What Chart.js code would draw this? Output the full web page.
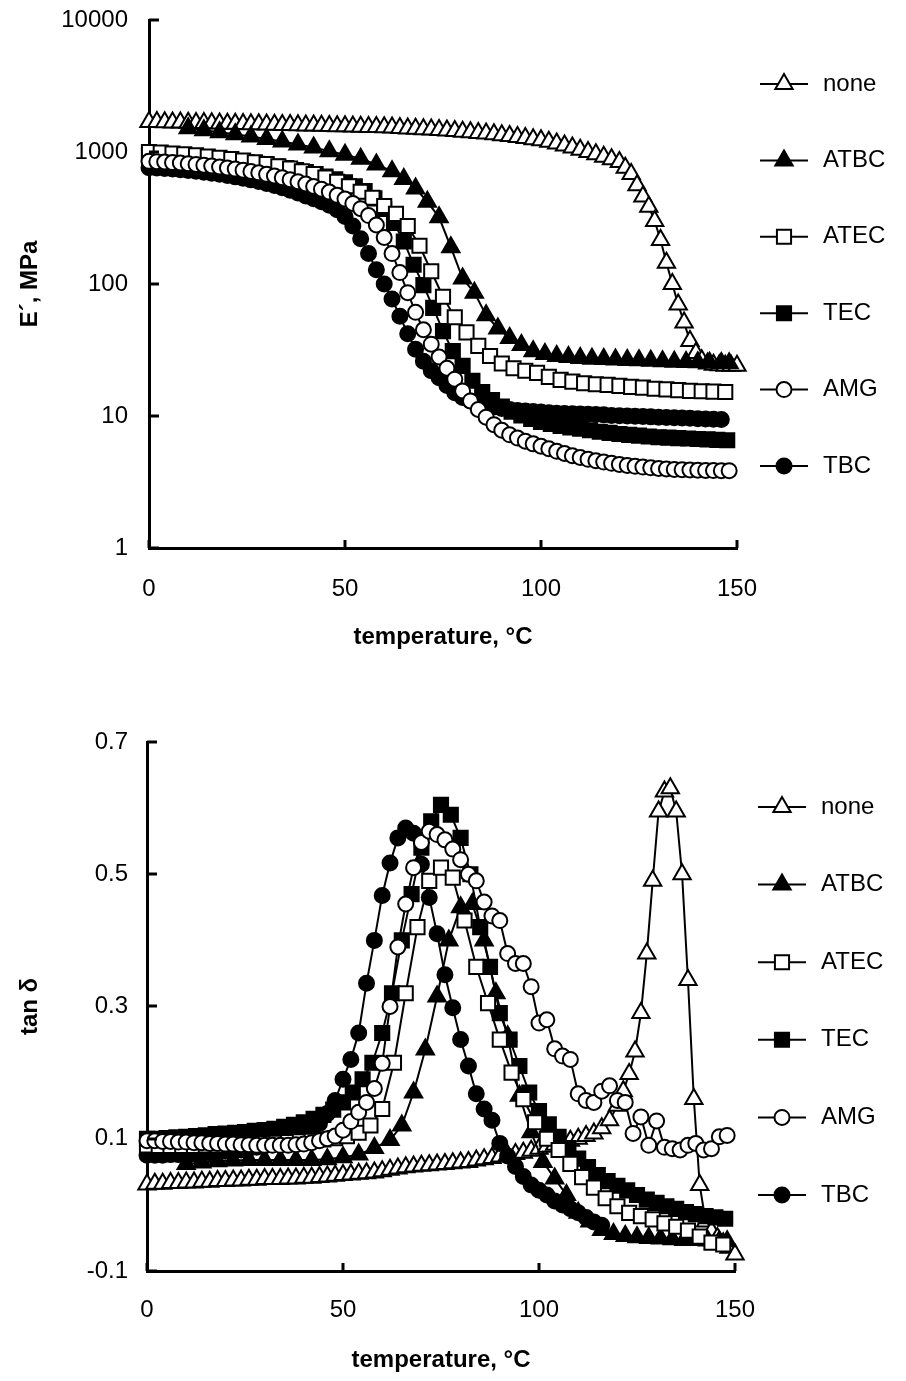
<!DOCTYPE html>
<html>
<head>
<meta charset="utf-8">
<script src="https://cdn.jsdelivr.net/npm/chart.js@4.4.1/dist/chart.umd.min.js"></script>
<style>
  body { margin: 0; background: #fff; }
  .panel { position: absolute; left: 0; width: 906px; }
</style>
</head>
<body>
<div class="panel" style="top:0;height:690px"><canvas id="modulus"></canvas></div>
<div class="panel" style="top:690px;height:691px"><canvas id="tandelta"></canvas></div>
<script>
// temperatures (°C) of each sample's measurement points
const tempNone = [0,2,4,6,8,10,12,14,16,18,20,22,24,26,28,30,32,34,36,38,40,42,44,46,48,50,52,54,56,58,
  60,62,64,66,68,70,72,74,76,78,80,82,84,86,88,90,92,94,96,98,100,102,104,106,108,110,112,114,116,118,
  120,121.5,123,124.5,126,127.5,129,130.5,132,133.5,135,136.5,138,139.5,141,142.5,144,145.5,147,148.5,150];
const tempATBC = [10,14,18,22,26,30,34,38,42,46,50,54,58,62,65,68,71,74,77,80,83,86,89,92,95,98,101,104,
  107,110,113,116,119,122,125,128,131,134,137,140,143,146,148];
const tempATEC = [0,3,6,9,12,15,18,21,24,27,30,33,36,39,42,45,48,51,54,57,60,63,66,69,72,75,78,81,84,87,
  90,93,96,99,102,105,108,111,114,117,120,123,126,129,132,135,138,141,144,147];
const tempTEC = [0,2.5,5,7.5,10,12.5,15,17.5,20,22.5,25,27.5,30,32.5,35,37.5,40,42.5,45,47.5,50,52.5,55,57.5,
  60,62.5,65,67.5,70,72.5,75,77.5,80,82.5,85,87.5,90,92.5,95,97.5,100,102.5,105,107.5,110,112.5,115,117.5,
  120,122.5,125,127.5,130,132.5,135,137.5,140,142.5,145,147.5];
const tempAMG = [0,2,4,6,8,10,12,14,16,18,20,22,24,26,28,30,32,34,36,38,40,42,44,46,48,50,52,54,56,58,
  60,62,64,66,68,70,72,74,76,78,80,82,84,86,88,90,92,94,96,98,100,102,104,106,108,110,112,114,116,118,
  120,122,124,126,128,130,132,134,136,138,140,142,144,146,148];
const tempTBC = [0,2,4,6,8,10,12,14,16,18,20,22,24,26,28,30,32,34,36,38,40,42,44,46,48,50,52,54,56,58,
  60,62,64,66,68,70,72,74,76,78,80,82,84,86,88,90,92,94,96,98,100,102,104,106,108,110,112,114,116,118,
  120,122,124,126,128,130,132,134,136,138,140,142,144,146];

// storage modulus E' (MPa)
const eNone = [1690,1685,1680,1675,1670,1665,1660,1655,1650,1645,
  1640,1635,1630,1625,1620,1615,1610,1605,1600,1595,
  1590,1585,1580,1575,1570,1565,1560,1555,1550,1545,
  1540,1530,1520,1510,1500,1490,1480,1470,1455,1440,
  1425,1410,1395,1380,1360,1340,1320,1300,1275,1250,
  1225,1195,1160,1120,1080,1040,1000,960,920,880,
  840,760,680,560,460,385,300,215,145,100,
  70,51,37,30,26.5,25,24.5,24.2,24,24,24];
const eATBC = [1515,1460,1410,1365,1310,1255,1200,1140,1080,1015,955,890,805,
  715,
  625,530,420,320,190,110,86,58,46,39,34.5,31,29.5,28.5,28,27.5,27.2,27,26.8,26.6,26.4,26.2,26,25.8,25.6,25.5,25.3,25.2,
  25.1];
const eATEC = [1000,990,975,960,945,925,905,885,860,835,
  810,780,750,715,680,640,595,550,500,450,
  390,340,275,195,125,80,56,43,34,28.5,
  25,23,22,21.2,19.8,18.8,18.2,17.7,17.4,17.2,
  16.9,16.6,16.4,16.1,15.9,15.7,15.5,15.4,15.3,15.2];
const eTEC = [950,945,935,925,915,905,895,880,865,850,
  835,815,795,775,755,730,705,680,650,620,
  590,550,505,445,370,290,210,140,98,66,
  44,31,24,18.5,15.2,13.2,11.8,10.8,10.1,9.5,
  9.0,8.7,8.4,8.2,8.0,7.8,7.6,7.45,7.3,7.2,
  7.1,7.0,6.9,6.85,6.8,6.75,6.7,6.65,6.6,6.55];
const eAMG = [850,845,840,832,825,815,805,795,783,770,
  757,743,728,712,695,677,658,638,617,595,
  572,548,523,497,470,440,408,372,330,280,
  225,170,122,86,61,45,35,28,23,19,
  15.5,13,11.2,9.8,8.6,7.8,7.2,6.8,6.45,6.15,
  5.9,5.65,5.4,5.2,5.0,4.85,4.7,4.58,4.48,4.38,
  4.3,4.22,4.16,4.1,4.05,4.0,3.97,3.94,3.92,3.9,
  3.88,3.87,3.86,3.85,3.85];
const eTBC = [760,755,750,742,735,725,715,703,690,677,
  663,648,632,615,597,578,558,537,514,490,
  465,442,420,395,365,325,275,220,170,128,
  100,77,57,42,32,26,22,19.5,17,15,
  13.8,13,12.4,12,11.7,11.4,11.2,11,10.9,10.8,
  10.7,10.6,10.5,10.45,10.4,10.35,10.3,10.25,10.2,10.1,
  10.05,10,9.95,9.9,9.85,9.8,9.75,9.7,9.65,9.6,
  9.55,9.5,9.45,9.4];

// loss factor tan delta
const tanNone = [.031,.032,.032,.033,.033,.034,.034,.035,.035,.036,
  .036,.037,.037,.038,.038,.039,.039,.039,.040,.040,
  .041,.041,.042,.043,.044,.045,.046,.047,.048,.049,
  .051,.053,.055,.057,.058,.059,.060,.061,.062,.063,
  .064,.065,.067,.069,.071,.073,.075,.077,.079,.082,
  .085,.088,.091,.094,.097,.100,.104,.108,.116,.128,
  .150,.172,.198,.232,.290,.380,.490,.595,.625,.630,
  .595,.500,.340,.160,.030,-.025,-.040,-.050,-.058,-.065,-.075];
const tanATBC = [.062,.064,.066,.067,.068,.068,.068,.068,.068,.069,.072,.076,.086,
  .098,
  .12,.17,.235,.315,.40,.45,.455,.40,.32,.255,.165,.11,.065,.04,.015,-.012,-.025,-.038,-.044,-.047,-.049,-.05,-.051,-.052,-.053,-.053,-.054,-.055,
  -.055];
const tanATEC = [.090,.089,.089,.089,.089,.090,.090,.091,.091,.092,
  .093,.094,.095,.096,.097,.099,.101,.104,.109,.120,
  .145,.215,.320,.420,.490,.510,.495,.430,.360,.305,
  .250,.200,.160,.125,.100,.083,.062,.042,.026,.010,
  -.002,-.012,-.017,-.022,-.028,-.033,-.039,-.048,-.057,-.060];
const tanTEC = [.100,.100,.101,.102,.103,.104,.105,.107,.108,.109,
  .110,.112,.113,.115,.118,.121,.125,.130,.136,.144,
  .155,.170,.190,.215,.260,.320,.400,.470,.540,.580,
  .605,.590,.555,.500,.420,.360,.290,.250,.210,.170,
  .142,.122,.103,.086,.070,.057,.045,.036,.029,.022,
  .015,.008,.003,-.002,-.006,-.011,-.014,-.017,-.019,-.021];
const tanAMG = [.097,.097,.096,.096,.095,.095,.094,.094,.093,.093,
  .092,.092,.091,.091,.090,.090,.090,.090,.090,.091,
  .092,.094,.097,.100,.104,.113,.126,.140,.155,.176,
  .214,.300,.390,.455,.510,.548,.565,.560,.552,.538,
  .522,.500,.490,.458,.437,.430,.380,.365,.365,.330,
  .275,.280,.236,.225,.220,.168,.158,.155,.172,.180,
  .158,.155,.108,.133,.090,.127,.087,.085,.083,.090,
  .093,.083,.085,.103,.105];
const tanTBC = [.075,.075,.075,.076,.076,.077,.077,.078,.079,.080,
  .081,.082,.083,.085,.087,.089,.091,.094,.097,.101,
  .106,.113,.123,.138,.158,.190,.220,.260,.335,.400,
  .468,.517,.555,.570,.562,.515,.465,.410,.348,.298,
  .250,.210,.168,.145,.128,.093,.074,.058,.043,.030,
  .022,.015,.006,.000,-.006,-.012,-.019,-.026,-.031,null,
  null,null,null,null,null,null,null,null,null,null,
  null,null,null,null];

const tickTemp = [0, 50, 100, 150];
const tickE = [1, 10, 100, 1000, 10000];
const tickTan = [-0.1, 0.1, 0.3, 0.5, 0.7];

const samples = [
  { label: 'none', temp: tempNone, e: eNone, tan: tanNone, shape: 'triangle', fill: '#fff', r: 10, order: 6 },
  { label: 'ATBC', temp: tempATBC, e: eATBC, tan: tanATBC, shape: 'triangle', fill: '#000', r: 10, order: 5 },
  { label: 'ATEC', temp: tempATEC, e: eATEC, tan: tanATEC, shape: 'rect', fill: '#fff', r: 10, order: 2 },
  { label: 'TEC', temp: tempTEC, e: eTEC, tan: tanTEC, shape: 'rect', fill: '#000', r: 10, order: 3 },
  { label: 'AMG', temp: tempAMG, e: eAMG, tan: tanAMG, shape: 'circle', fill: '#fff', r: 7.5, order: 1 },
  { label: 'TBC', temp: tempTBC, e: eTBC, tan: tanTBC, shape: 'circle', fill: '#000', r: 7.5, order: 4 }
];

const FONT = '"Liberation Sans", Arial, Helvetica, sans-serif';
const TXT = 24;
Chart.defaults.font.family = FONT;
Chart.defaults.color = '#000';

function makeDatasets(key) {
  return samples.map(s => ({
    label: s.label,
    data: s.temp.map((t, i) => ({ x: t, y: s[key][i] })),
    showLine: true,
    borderColor: '#000',
    borderWidth: 2,
    pointStyle: s.shape,
    pointRadius: s.r,
    pointBackgroundColor: s.fill,
    pointBorderColor: '#000',
    pointBorderWidth: 2,
    order: s.order,
    clip: false
  }));
}

// ticks pointing into the plot, like the original figure
const innerTicks = {
  id: 'innerTicks',
  afterDraw(chart) {
    const { ctx, chartArea: a, scales } = chart;
    ctx.save();
    ctx.strokeStyle = '#000';
    ctx.lineWidth = 3;
    scales.y.ticks.forEach(t => {
      const py = Math.round(scales.y.getPixelForValue(t.value));
      ctx.beginPath(); ctx.moveTo(a.left, py); ctx.lineTo(a.left + 10, py); ctx.stroke();
    });
    scales.x.ticks.forEach(t => {
      const px = Math.round(scales.x.getPixelForValue(t.value));
      ctx.beginPath(); ctx.moveTo(px, a.bottom); ctx.lineTo(px, a.bottom - 8); ctx.stroke();
    });
    ctx.restore();
  }
};

// legend at the right: short line with marker, then the name
const sideLegend = {
  id: 'sideLegend',
  afterDraw(chart, args, opts) {
    const ctx = chart.ctx;
    ctx.save();
    chart.data.datasets.forEach((ds, i) => {
      const y = opts.top + i * opts.gap;
      ctx.strokeStyle = '#000';
      ctx.lineWidth = 2;
      ctx.beginPath(); ctx.moveTo(opts.x - 24, y); ctx.lineTo(opts.x + 24, y); ctx.stroke();
      ctx.fillStyle = ds.pointBackgroundColor;
      Chart.helpers.drawPoint(ctx, { pointStyle: ds.pointStyle, radius: ds.pointRadius, rotation: 0, borderWidth: 2 }, opts.x, y);
      ctx.fillStyle = '#000';
      ctx.font = TXT + 'px ' + FONT;
      ctx.textAlign = 'left';
      ctx.textBaseline = 'middle';
      ctx.fillText(ds.label, opts.x + 39, y);
    });
    ctx.restore();
  }
};

function makeChart(id, cfg) {
  return new Chart(document.getElementById(id), {
    type: 'scatter',
    data: { datasets: makeDatasets(cfg.key) },
    plugins: [innerTicks, sideLegend],
    options: {
      responsive: true,
      maintainAspectRatio: false,
      animation: false,
      devicePixelRatio: 1,
      layout: { padding: { left: 0, top: cfg.top, right: cfg.right, bottom: 0 } },
      plugins: {
        legend: { display: false },
        tooltip: { enabled: false },
        sideLegend: cfg.legend
      },
      scales: {
        x: {
          type: 'linear', min: 0, max: 150,
          grid: { display: false, drawTicks: false },
          border: { display: true, color: '#000', width: 3 },
          afterBuildTicks: s => { s.ticks = tickTemp.map(v => ({ value: v })); },
          afterFit: s => { s.height = cfg.xHeight; s.paddingLeft = 0; s.paddingRight = 0; },
          ticks: { font: { size: TXT }, padding: cfg.xPad, autoSkip: false, maxRotation: 0, callback: v => String(v) },
          title: { display: true, text: 'temperature, °C', font: { size: TXT, weight: 'bold' }, padding: { top: 0, bottom: cfg.xTitlePad } }
        },
        y: {
          type: cfg.yType, min: cfg.yMin, max: cfg.yMax,
          grid: { display: false, drawTicks: false },
          border: { display: true, color: '#000', width: 3 },
          afterBuildTicks: s => { s.ticks = cfg.yTicks.map(v => ({ value: v })); },
          afterFit: s => { s.width = cfg.yWidth; s.paddingTop = 0; s.paddingBottom = 0; },
          ticks: { font: { size: TXT }, padding: cfg.yPad, autoSkip: false, callback: cfg.yFormat },
          title: { display: true, text: cfg.yTitle, font: { size: TXT, weight: 'bold' }, padding: { top: 16, bottom: 0 } }
        }
      }
    }
  });
}

makeChart('modulus', {
  key: 'e', top: 20, right: 169, xHeight: 142, yWidth: 149, xPad: 27, yPad: 21, xTitlePad: 38,
  yType: 'logarithmic', yMin: 1, yMax: 10000, yTicks: tickE, yFormat: v => String(v),
  yTitle: 'E´, MPa',
  legend: { x: 784, top: 84, gap: 76.4 }
});

makeChart('tandelta', {
  key: 'tan', top: 52, right: 171, xHeight: 110, yWidth: 147, xPad: 25, yPad: 19, xTitlePad: 6,
  yType: 'linear', yMin: -0.1, yMax: 0.7, yTicks: tickTan, yFormat: v => v.toFixed(1),
  yTitle: 'tan δ',
  legend: { x: 782, top: 117, gap: 77.6 }
});
</script>
</body>
</html>
